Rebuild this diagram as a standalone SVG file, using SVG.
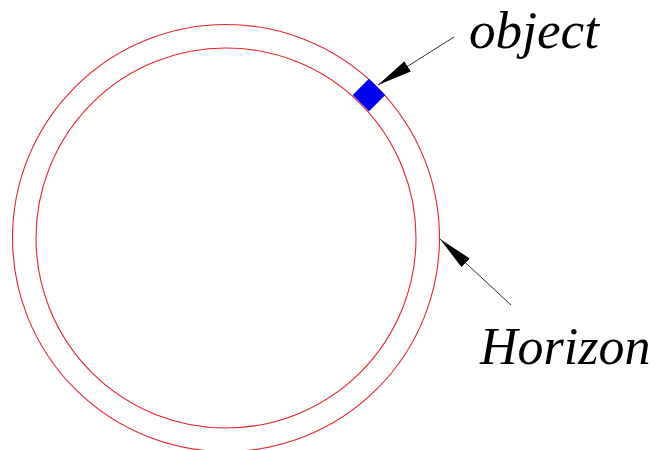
<svg xmlns="http://www.w3.org/2000/svg" width="658" height="450" viewBox="0 0 658 450">
<style>
.ring{fill:none;stroke:#e8242a;stroke-width:1.1}
.lead{stroke:#333;stroke-width:1;fill:none}
.lbl{font-family:"Liberation Serif","Times New Roman",serif;font-style:italic;fill:#000}
</style>
<defs>
<marker id="ah" viewBox="0 0 35 12" refX="35" refY="6" markerWidth="35" markerHeight="12" markerUnits="userSpaceOnUse" orient="auto">
<path d="M0,0 L35,6 L0,12 Z" fill="#000"/>
</marker>
</defs>
<rect width="658" height="450" fill="#fff"/>
<g id="horizon">
<circle class="ring" cx="226" cy="238" r="213.5"/>
<circle class="ring" cx="226" cy="238" r="190"/>
</g>
<g id="object">
<rect x="357.5" y="83.5" width="23" height="23" fill="#0000f0" transform="rotate(45 369 95)"/>
</g>
<g id="connectors">
<line class="lead" x1="454" y1="37" x2="378" y2="85" marker-end="url(#ah)"/>
<line class="lead" x1="511" y1="305" x2="440" y2="239" marker-end="url(#ah)"/>
</g>
<g id="labels">
<text class="lbl" x="469" y="47.5" font-size="52.5" textLength="130" lengthAdjust="spacingAndGlyphs">object</text>
<text class="lbl" x="480" y="364" font-size="52">Horizon</text>
</g>
</svg>
